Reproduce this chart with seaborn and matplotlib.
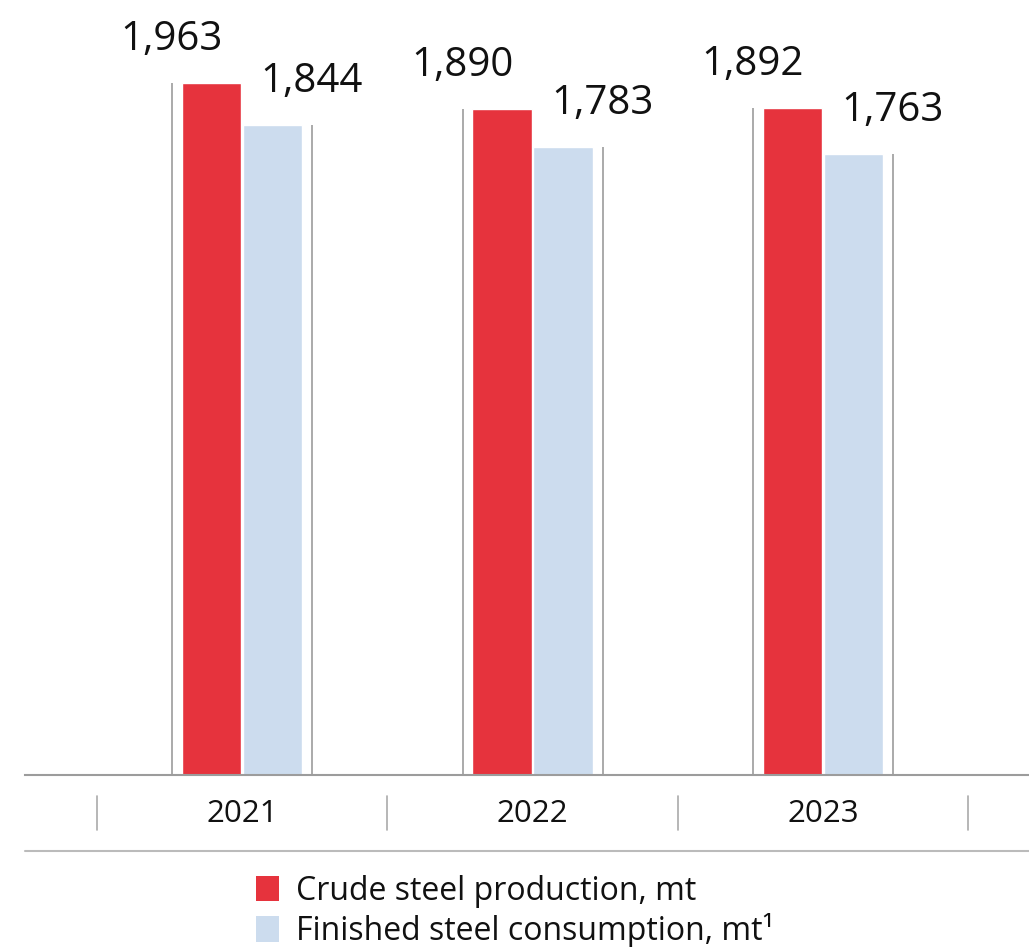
import pandas as pd
import seaborn as sns
import matplotlib.pyplot as plt
from matplotlib.patches import Patch
from matplotlib.lines import Line2D

# data
years = ['2021', '2022', '2023']
crude = [1963, 1890, 1892]
finished = [1844, 1783, 1763]
series = ['Crude steel production, mt', 'Finished steel consumption, mt\u00b9']
colors = {series[0]: '#e6333d', series[1]: '#ccdcee'}

df = pd.DataFrame({
    'year': years * 2,
    'value': crude + finished,
    'series': [series[0]] * 3 + [series[1]] * 3,
})

sns.set_style('white')
plt.rcParams['font.family'] = ['Open Sans', 'DejaVu Sans']

W, H = 1029, 947
fig = plt.figure(figsize=(W / 100, H / 100), dpi=100)
# axes: left 25px, baseline at y=775px from top
ax = fig.add_axes([25 / W, (H - 775) / H, (W - 25) / W, 775 / H])

sns.barplot(data=df, x='year', y='value', hue='series', palette=colors,
            width=0.42, gap=0.02, saturation=1, legend=False, ax=ax)

step = 290.5  # px between categories
ax.set_xlim(-217 / step, (W - 25 - 217) / step)
ax.set_ylim(0, 2200)

grey = '#9c9c9c'
# thin stems at the outer sides of each pair, with value labels on top
off = 70 / step
for i in range(len(years)):
    for x, v in [(i - off, crude[i]), (i + off, finished[i])]:
        ax.vlines(x, 0, v, color=grey, lw=1.2)
        ax.annotate(f'{v:,}', (x, v), xytext=(0, 24), textcoords='offset points',
                    ha='center', va='baseline', fontsize=29, color='#111111')

for s in ['top', 'right', 'left']:
    ax.spines[s].set_visible(False)
ax.spines['bottom'].set_color(grey)
ax.spines['bottom'].set_linewidth(1.5)
ax.set_yticks([])
ax.set_xlabel('')
ax.set_ylabel('')
ax.tick_params(axis='x', length=0, pad=17, labelsize=22.5, labelcolor='#111111')

# separators between year labels
tr = ax.get_xaxis_transform()
for b in [-0.5, 0.5, 1.5, 2.5]:
    ax.plot([b, b], [-21 / 775, -55 / 775], color='#aaaaaa', lw=1.2,
            transform=tr, clip_on=False)

# bottom rule above legend
fig.add_artist(Line2D([25 / W, 1], [(H - 851) / H] * 2, color='#bbbbbb', lw=1.5,
                      transform=fig.transFigure))

handles = [Patch(facecolor=colors[s], edgecolor='none', label=s) for s in series]
fig.legend(handles=handles, loc='upper left', bbox_to_anchor=(246 / W, 1 - 865 / H),
           frameon=False, fontsize=23, handlelength=0.72, handleheight=0.85,
           handletextpad=0.55, labelspacing=0.17, borderaxespad=0, borderpad=0.3,
           labelcolor='#111111')

fig.savefig('out.png', dpi=100)
